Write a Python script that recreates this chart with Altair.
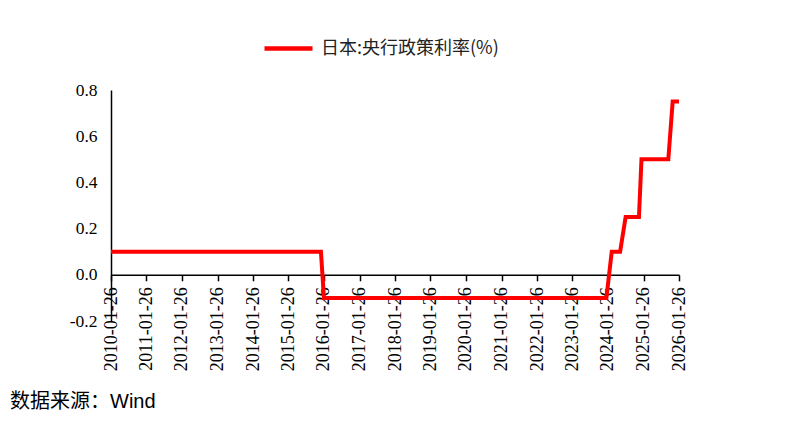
import altair as alt
import pandas as pd

# Breakpoints of the BOJ policy rate series
dates = ["2010-01-26", "2015-12-26", "2016-01-26", "2024-01-10", "2024-03-05",
         "2024-05-30", "2024-07-26", "2024-12-10", "2025-01-05", "2025-10-08",
         "2025-11-22", "2026-01-26"]
rates = [0.1, 0.1, -0.1, -0.1, 0.1, 0.1, 0.25, 0.25, 0.5, 0.5, 0.75, 0.75]
series_name = "日本:央行政策利率(%)"
tick_years = list(range(2010, 2027))
y_ticks = [-0.2, 0.0, 0.2, 0.4, 0.6, 0.8]
source_text = "数据来源：Wind"

df = pd.DataFrame({"date": dates, "rate": rates, "series": series_name})
src = pd.DataFrame({"t": [source_text]})

W, H = 568, 231
SERIF = "Liberation Serif"

x_enc = alt.X(
    "date:T",
    scale=alt.Scale(type="utc",
                    domain=[alt.DateTime(year=2010, month=1, date=26, utc=True),
                            alt.DateTime(year=2026, month=1, date=26, utc=True)]),
    axis=alt.Axis(
        values=[alt.DateTime(year=y, month=1, date=26, utc=True) for y in tick_years],
        labelExpr="utcFormat(datum.value, '%Y-%m-%d')",
        labelAngle=270, labelFont=SERIF, labelFontSize=18,
        labelColor="#000000", labelPadding=6,
        domainColor="#000000", domainWidth=1.5,
        tickColor="#000000", tickWidth=1.5, tickSize=6,
        grid=False, title=None, offset=-46.2, labelOverlap=False,
    ),
)

y_enc = alt.Y(
    "rate:Q",
    scale=alt.Scale(domain=[-0.2, 0.8], nice=False, zero=False),
    axis=alt.Axis(
        values=y_ticks,
        labelExpr="datum.value < 0 ? '-' + format(-datum.value, '.1f') : format(datum.value, '.1f')",
        labelFont=SERIF, labelFontSize=17.5, labelColor="#000000",
        labelPadding=14, ticks=False, grid=False, title=None,
        domainColor="#000000", domainWidth=1.5,
    ),
)

line = alt.Chart(df).mark_line(strokeWidth=4, strokeJoin="miter").encode(
    x=x_enc,
    y=y_enc,
    color=alt.Color(
        "series:N",
        scale=alt.Scale(range=["#FF0000"]),
        legend=alt.Legend(
            title=None, orient="none", legendX=151, legendY=-68,
            symbolType="stroke", symbolSize=2304, symbolStrokeWidth=4.5,
            labelFont="Noto Sans CJK SC", labelFontSize=18, labelColor="#222222",
            labelOffset=6, labelLimit=0,
        ),
    ),
)

source = alt.Chart(src).mark_text(
    align="left", baseline="middle", fontSize=20,
    font="Liberation Sans, Noto Sans CJK SC", color="#000000",
).encode(x=alt.value(-101), y=alt.value(312), text="t:N")

chart = alt.layer(line, source).properties(
    width=W, height=H,
    autosize=alt.AutoSizeParams(type="none"),
    padding={"left": 103, "top": 82, "right": 115, "bottom": 95},
).configure(background="#ffffff").configure_view(stroke=None)

chart.save("out.html", embed_options={"renderer": "svg", "actions": False})
